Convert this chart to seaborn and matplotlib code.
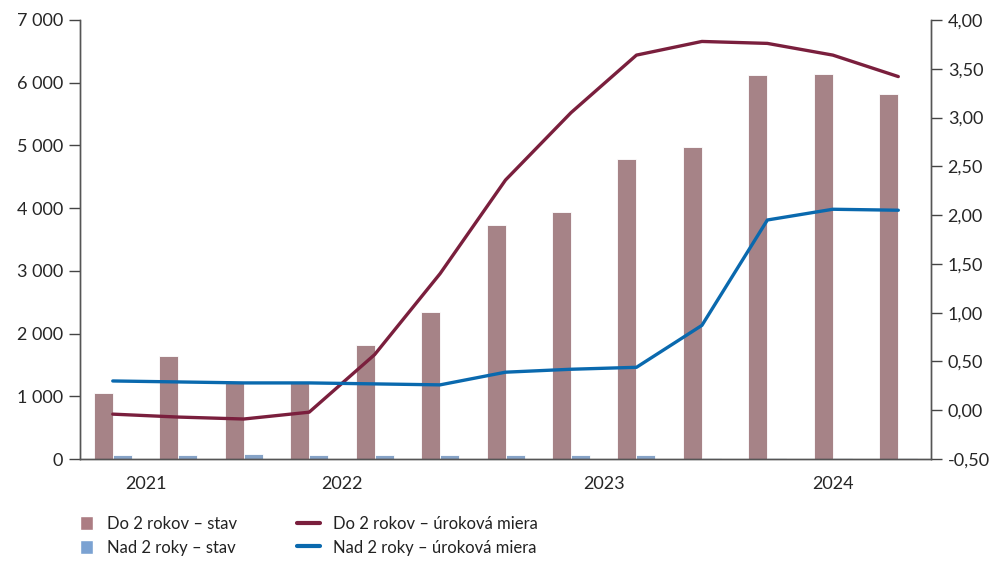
import pandas as pd
import seaborn as sns
import matplotlib.pyplot as plt
from matplotlib.patches import Patch
from matplotlib.lines import Line2D
from matplotlib.ticker import FuncFormatter, FixedLocator

quarters = ["2021Q3", "2021Q4", "2022Q1", "2022Q2", "2022Q3", "2022Q4", "2023Q1",
            "2023Q2", "2023Q3", "2023Q4", "2024Q1", "2024Q2", "2024Q3"]
do2_stav = [1050, 1640, 1230, 1230, 1820, 2350, 3730, 3940, 4780, 4970, 6120, 6140, 5820]
nad2_stav = [65, 65, 75, 65, 62, 62, 62, 62, 62, 15, 15, 15, 15]
do2_miera = [-0.04, -0.07, -0.09, -0.02, 0.57, 1.40, 2.36, 3.05, 3.64, 3.78, 3.76, 3.64, 3.42]
nad2_miera = [0.30, 0.29, 0.28, 0.28, 0.27, 0.26, 0.39, 0.42, 0.44, 0.87, 1.95, 2.06, 2.05]
years = ["2021", "2022", "2023", "2024"]
year_bounds = [-0.5, 1.5, 5.5, 9.5, 12.5]

lbl_do2_stav = "Do 2 rokov – stav"
lbl_nad2_stav = "Nad 2 roky – stav"
lbl_do2_miera = "Do 2 rokov – úroková miera"
lbl_nad2_miera = "Nad 2 roky – úroková miera"

c_pink = "#AC7D83"
c_lblue = "#7BA2D2"
c_maroon = "#7A1F3D"
c_blue = "#0A69AE"

sns.set_style("white")
plt.rcParams['font.family'] = ['Lato', 'DejaVu Sans']
plt.rcParams['font.size'] = 13
plt.rcParams['text.color'] = "#222222"

bars = pd.DataFrame({
    "q": quarters * 2,
    "val": do2_stav + nad2_stav,
    "s": [lbl_do2_stav] * len(quarters) + [lbl_nad2_stav] * len(quarters),
})
lines = pd.DataFrame({
    "x": list(range(len(quarters))) * 2,
    "val": do2_miera + nad2_miera,
    "s": [lbl_do2_miera] * len(quarters) + [lbl_nad2_miera] * len(quarters),
})

fig = plt.figure(figsize=(9.98, 5.63), dpi=100)
ax = fig.add_axes([0.0802, 0.1847, 0.8527, 0.7798])
sns.barplot(data=bars, x="q", y="val", hue="s", palette=[c_pink, c_lblue],
            width=0.58, ax=ax, legend=False, edgecolor="white", linewidth=0.6)
ax.set_ylim(0, 7000)
ax.set_xlim(-0.5, 12.5)
ax.set_yticks(range(0, 7001, 1000))
ax.yaxis.set_major_formatter(FuncFormatter(lambda v, p: f"{int(v):,}".replace(",", " ")))
ax.set_xlabel("")
ax.set_ylabel("")

ax2 = ax.twinx()
sns.lineplot(data=lines, x="x", y="val", hue="s", palette=[c_maroon, c_blue],
             linewidth=2.4, ax=ax2, legend=False)
ax2.set_ylim(-0.5, 4.0)
ax2.set_yticks([v / 2 for v in range(-1, 9)])
ax2.yaxis.set_major_formatter(FuncFormatter(lambda v, p: f"{v:.2f}".replace(".", ",")))
ax2.set_xlim(-0.5, 12.5)
ax2.set_xlabel("")
ax2.set_ylabel("")

# year separators and labels
ax.xaxis.set_major_locator(FixedLocator(year_bounds))
ax.set_xticklabels([""] * len(year_bounds))
centers = [(year_bounds[i] + year_bounds[i + 1]) / 2 for i in range(len(years))]
ax.xaxis.set_minor_locator(FixedLocator(centers))
ax.set_xticklabels(years, minor=True)
ax.tick_params(axis="x", which="major", length=8, width=1, color="#444444", direction="out")
ax.tick_params(axis="x", which="minor", length=0, pad=12)
ax.tick_params(axis="y", length=8, width=1, color="#444444", direction="out", pad=4)
ax2.tick_params(axis="y", length=8, width=1, color="#444444", direction="out", pad=4)

for a in (ax, ax2):
    a.spines["top"].set_visible(False)
    for s in ("left", "right", "bottom"):
        a.spines[s].set_color("#555555")
        a.spines[s].set_linewidth(1)
    a.grid(False)

bar_handles = [
    Patch(facecolor=c_pink, label=lbl_do2_stav),
    Patch(facecolor=c_lblue, label=lbl_nad2_stav),
]
line_handles = [
    Line2D([0], [0], color=c_maroon, lw=3, label=lbl_do2_miera),
    Line2D([0], [0], color=c_blue, lw=3, label=lbl_nad2_miera),
]
leg1 = fig.legend(handles=bar_handles, loc="upper left", bbox_to_anchor=(80 / 998, 1 - 516 / 563),
                  frameon=False, borderpad=0, borderaxespad=0, handlelength=0.75,
                  handleheight=0.9, labelspacing=0.45, fontsize=12, handletextpad=0.85)
leg2 = fig.legend(handles=line_handles, loc="upper left", bbox_to_anchor=(297 / 998, 1 - 516 / 563),
                  frameon=False, borderpad=0, borderaxespad=0, handlelength=1.4,
                  handleheight=0.9, labelspacing=0.45, fontsize=12, handletextpad=0.75)

fig.savefig("out.png", dpi=100)
